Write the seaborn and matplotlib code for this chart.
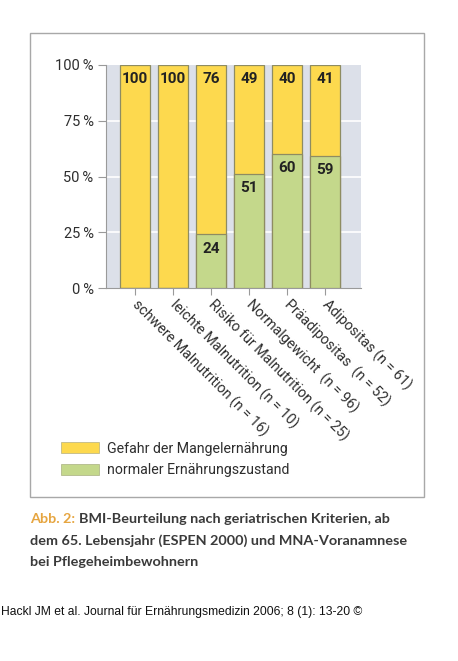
import matplotlib
matplotlib.use("Agg")
import matplotlib.pyplot as plt
import seaborn as sns
import pandas as pd
from matplotlib.patches import Rectangle, Patch

categories = ["schwere Malnutrition (n = 16)", "leichte Malnutrition (n = 10)",
              "Risiko für Malnutrition (n = 25)", "Normalgewicht  (n = 96)",
              "Präadipositas  (n = 52)", "Adipositas (n = 61)"]
gefahr = [100, 100, 76, 49, 40, 41]
normal = [0, 0, 24, 51, 60, 59]
ytick_vals = [0, 25, 50, 75, 100]
ytick_labels = ["0\u2009%", "25\u2009%", "50\u2009%", "75\u2009%", "100\u2009%"]
legend_labels = ["Gefahr der Mangelernährung", "normaler Ernährungszustand"]

YELLOW = "#FDD94E"
GREEN = "#C4D88B"
EDGE = "#8E8C62"
BG = "#DCE0E9"
TXT = "#2E2E2E"

sns.set_theme(style="white")
NARROW = ["Roboto", "DejaVu Sans"]
plt.rcParams["font.family"] = NARROW

W, H = 458, 661
fig = plt.figure(figsize=(W / 100, H / 100), dpi=100)
fig.patch.set_facecolor("white")

# outer frame
fig.add_artist(Rectangle((30 / W, 1 - 497 / H), 394 / W, 464 / H, transform=fig.transFigure,
                         fill=False, edgecolor="#A8A8A8", linewidth=1.0))

ax = fig.add_axes([106 / W, 1 - 288 / H, 255 / W, 223 / H])
ax.set_facecolor(BG)

df = pd.DataFrame({"cat": categories, "total": [g + n for g, n in zip(gefahr, normal)], "normal": normal})
sns.barplot(data=df, x="cat", y="total", color=YELLOW, edgecolor=EDGE, linewidth=0.9,
            width=0.8, saturation=1, ax=ax, zorder=3)
sns.barplot(data=df, x="cat", y="normal", color=GREEN, edgecolor=EDGE, linewidth=0.9,
            width=0.8, saturation=1, ax=ax, zorder=4)

ax.set_xlim(-0.76, 5.95)
ax.set_ylim(0, 100)
ax.set_yticks(ytick_vals)
ax.set_yticklabels(ytick_labels, fontsize=10.5, color=TXT)
for v in ytick_vals[1:-1]:
    ax.axhline(v, color="white", linewidth=1.2, zorder=1)

for s in ["top", "right"]:
    ax.spines[s].set_visible(False)
for s in ["left", "bottom"]:
    ax.spines[s].set_color("#9A9A9A")
    ax.spines[s].set_linewidth(0.8)
ax.tick_params(axis="y", length=6, width=0.8, color="#9A9A9A", pad=3, left=True)
ax.tick_params(axis="x", length=5, width=0.8, color="#9A9A9A", bottom=True, direction="out")
ax.set_xlabel("")
ax.set_ylabel("")

ax.set_xticks(range(len(categories)))
ax.set_xticklabels(categories, rotation=-45, ha="left", va="center",
                   rotation_mode="anchor", fontsize=10.3, color=TXT)
for lab in ax.get_xticklabels():
    lab.set_y(-0.012)

# value labels
for i, (g, n) in enumerate(zip(gefahr, normal)):
    ax.text(i, 100 - 6.5, str(g), ha="center", va="center", fontsize=11,
            fontweight="bold", color="#222222", zorder=6)
    if n > 0:
        ax.text(i, n - 6.3, str(n), ha="center", va="center", fontsize=11,
                fontweight="bold", color="#222222", zorder=6)

handles = [Patch(facecolor=YELLOW, edgecolor="#B5B080", linewidth=0.5),
           Patch(facecolor=GREEN, edgecolor="#A8B080", linewidth=0.5)]
fig.legend(handles, legend_labels, loc="upper left", bbox_to_anchor=(55 / W, 1 - 436 / H),
           frameon=False, handlelength=2.7, handleheight=0.85,
           handletextpad=0.55, labelspacing=0.55, borderaxespad=0, labelcolor=TXT,
           prop={"size": 10.2})

# caption
CAP = ["Lato", "DejaVu Sans"]
fig.canvas.draw()
r = fig.canvas.get_renderer()
CS = 10.4
t0 = fig.text(30 / W, 1 - 519 / H, "Abb. 2:", fontsize=CS, fontweight="bold", color="#E6A540",
              family=CAP, va="center", ha="left")
bb = t0.get_window_extent(renderer=r)
x1 = (bb.x1 + 4) / W
fig.text(x1, 1 - 519 / H, "BMI-Beurteilung nach geriatrischen Kriterien, ab", fontsize=CS,
         fontweight="bold", color="#3A3A3A", family=CAP, va="center", ha="left")
fig.text(30 / W, 1 - 541 / H, "dem 65. Lebensjahr (ESPEN 2000) und MNA-Voranamnese", fontsize=CS,
         fontweight="bold", color="#3A3A3A", family=CAP, va="center", ha="left")
fig.text(30 / W, 1 - 562 / H, "bei Pflegeheimbewohnern", fontsize=CS,
         fontweight="bold", color="#3A3A3A", family=CAP, va="center", ha="left")

fig.text(1 / W, 1 - 612 / H, "Hackl JM et al. Journal für Ernährungsmedizin 2006; 8 (1): 13-20 ©",
         fontsize=8.75, color="#111111", family=["Liberation Sans", "DejaVu Sans"],
         va="center", ha="left")

fig.savefig("out.png", dpi=100, facecolor="white")
